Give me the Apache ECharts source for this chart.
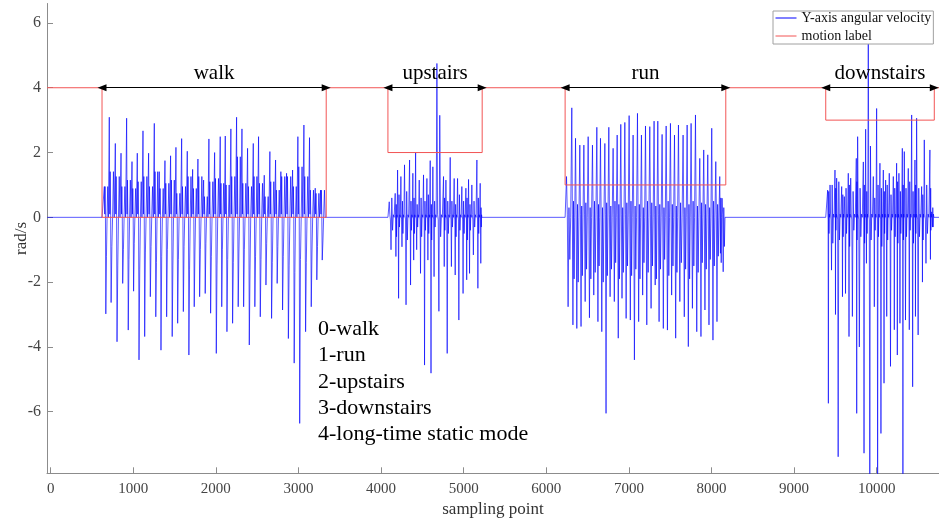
<!DOCTYPE html>
<html><head><meta charset="utf-8">
<script src="https://cdn.jsdelivr.net/npm/echarts@6.0.0/dist/echarts.min.js"></script>
<style>html,body{margin:0;padding:0;background:#fff}#c{width:939px;height:522px}</style>
</head><body><div id="c"></div>
<script>
// ---------- axis ranges & ticks ----------
const xMin = -44, xMax = 10754;
const yMin = -7.9, yMax = 6.6;
const xTicks = [0,1000,2000,3000,4000,5000,6000,7000,8000,9000,10000];
const yTicks = [-6,-4,-2,0,2,4,6];

// ---------- motion label segments ----------
const segNames = ['walk','upstairs','run','downstairs'];
const segStart = [622, 4083, 6228, 9383];
const segEnd   = [3336, 5224, 8173, 10697];
const segLevel = [0, 2, 1, 3];
const restLevel = 4;
const modeLines = ['0-walk','1-run','2-upstairs','3-downstairs','4-long-time static mode'];

// ---------- Y-axis angular velocity: step spikes ----------
// hiX: sample index of each step's main spike; hi / lo: its positive / negative peak;
// mid / dip / top: secondary peaks of the dense core in that step
const walkHiX = [650,710,783,852,920,985,1049,1118,1186,1255,1315,1384,1452,1517,1586,1654,1719,1783,1852,1916,1985,2053,2114,2182,2251,2316,2384,2453,2517,2586,2654,2723,2787,2856,2929,2993,3066,3134,3203,3267];
const walkHi = [0.95,3.09,2.28,1.98,3.06,1.72,1.98,2.67,1.98,2.9,1.41,1.75,1.9,2.16,2.43,2.04,1.48,1.8,1.15,2.42,2.0,2.49,2.51,2.73,3.09,2.73,2.13,2.28,2.49,1.3,2.03,1.77,1.41,1.36,1.46,2.49,2.85,2.46,0.9,0.84];
const walkLo = [-2.98,-2.63,-3.84,-2.04,-3.48,-2.28,-4.4,-3.68,-2.45,-3.07,-4.1,-3.07,-3.68,-3.27,-2.91,-4.25,-2.76,-2.45,-2.35,-2.96,-4.2,-2.76,-3.53,-3.27,-2.76,-2.76,-3.94,-2.76,-3.07,-2.09,-3.12,-2.04,-2.86,-3.74,-4.5,-6.36,-3.53,-2.76,-1.93,-1.32];
const walkMid = [0.95,1.41,1.26,0.95,1.15,0.89,1.1,1.26,0.95,1.41,0.89,1.05,1.15,0.74,0.95,1.26,0.89,1.26,0.64,1.1,1.2,1.05,1.0,1.26,1.87,1.05,0.95,1.26,1.05,0.64,1.1,0.84,1.26,1.26,0.95,1.56,1.26,0.84,0.74,0.84];
const walkDip = [-1.2,-0.9,-1.5,-1.0,-1.3,-0.8,-1.6,-1.1,-0.9,-1.4,-1.2,-1.0,-1.5,-1.3,-0.9,-1.6,-1.1,-1.0,-0.8,-1.2,-1.5,-1.0,-1.3,-1.4,-1.1,-1.0,-1.6,-1.2,-1.3,-0.8,-1.4,-0.9,-1.2,-1.5,-1.7,-1.3,-1.4,-1.1,-0.9,-0.7];
const walkPre = [0.1, 'M', 0.05];
const walkPost = ['D', 0.1, 'M', 0];

const upHiX = [4099,4171,4200,4240,4284,4345,4385,4418,4462,4514,4555,4595,4627,4676,4756,4785,4837,4885,4926,4978,5027,5059,5099,5160,5200];
const upHi = [0.48,0.74,1.46,1.26,1.62,1.77,1.36,2.0,1.15,1.31,1.2,1.75,1.56,4.75,1.26,1.15,1.85,1.2,1.2,0.95,0.9,1.17,1.0,1.77,1.05];
const upLo = [-1.0,-1.21,-2.5,-0.91,-2.7,-2.09,-1.32,-1.0,-1.73,-4.56,-1.32,-4.81,-1.83,-2.9,-1.52,-4.2,-1.52,-1.78,-3.17,-2.35,-1.93,-1.73,-1.16,-2.19,-1.42];
const upMid = [0.6,0.4,0.7,0.5,0.8,0.5,0.6,0.4,0.6,0.5,0.7,0.4,0.5,3.15,0.6,0.5,0.5,0.4,0.7,0.5,0.6,0.4,0.5,0.6,0.3];
const upDip = [-0.4,-0.6,-0.3,-0.5,-0.7,-0.4,-0.5,-0.3,-0.6,-0.4,-0.5,-0.7,-0.3,-0.6,-0.4,-0.5,-0.3,-0.6,-0.4,-0.5,-0.7,-0.4,-0.3,-0.5,-0.3];
const upPre = [0.08, -0.08];
const upPost = ['M', 'D', 0.08, 0];

const runHiX = [6245,6309,6354,6406,6455,6507,6559,6612,6656,6709,6757,6809,6858,6902,6951,7003,7051,7104,7152,7201,7253,7305,7350,7402,7451,7503,7552,7600,7656,7705,7753,7806,7858,7906,7955,8003,8052,8100,8128];
const runHi = [1.26,3.38,2.44,2.23,2.23,2.49,2.23,2.78,2.44,2.28,2.78,2.13,2.54,2.87,2.93,3.14,2.54,3.21,2.54,2.82,2.8,2.97,2.97,2.56,2.82,2.9,2.54,2.85,2.54,2.85,2.9,3.16,1.82,2.08,1.93,2.75,1.72,1.26,0.59];
const runLo = [-2.76,-3.32,-3.43,-3.37,-2.6,-3.1,-2.4,-3.22,-3.53,-6.05,-2.45,-2.6,-3.73,-2.5,-3.12,-3.17,-4.4,-3.22,-2.4,-3.32,-2.81,-2.09,-3.22,-3.43,-3.48,-2.4,-3.73,-2.6,-3.07,-3.99,-2.81,-3.53,-3.68,-2.86,-3.32,-3.79,-3.22,-1.11,-1.68];
const runDip = [-1.3,-1.9,-2.0,-1.8,-1.6,-1.9,-1.7,-1.5,-2.0,-1.8,-1.6,-1.4,-1.9,-1.7,-1.5,-1.8,-1.6,-1.9,-1.4,-1.7,-1.5,-1.9,-1.6,-1.3,-1.8,-1.5,-1.7,-1.4,-1.6,-1.9,-1.5,-1.7,-1.4,-1.6,-1.3,-1.5,-1.2,-1.4,-0.9];
const runTop = [0.3,0.5,0.4,0.35,0.45,0.3,0.5,0.4,0.3,0.45,0.35,0.5,0.4,0.3,0.45,0.5,0.35,0.4,0.3,0.5,0.45,0.35,0.4,0.3,0.5,0.4,0.35,0.45,0.3,0.4,0.5,0.35,0.45,0.4,0.3,0.5,0.4,0.6,0.3];
const runPre = [0.1];
const runPost = ['T', 'D', 0];

const downHiX = [9406,9435,9495,9515,9576,9608,9656,9685,9753,9769,9838,9866,9898,9959,9999,10039,10080,10108,10152,10201,10241,10269,10310,10334,10382,10423,10463,10483,10544,10576,10644,10665];
const downHi = [0.84,1.0,1.46,1.21,0.95,0.64,1.36,1.21,1.82,2.49,1.71,2.72,6.2,1.26,3.36,1.67,1.46,1.15,1.36,1.26,1.67,1.36,2.13,2.03,1.51,3.16,1.77,3.06,0.95,2.39,2.08,0.17];
const downLo = [-5.74,-1.63,-3.0,-7.39,-2.45,-2.35,-3.68,-3.06,-6.05,-4.0,-7.28,-1.42,-9.0,-2.76,-9.0,-6.67,-5.12,-3.06,-4.6,-3.47,-4.25,-3.27,-8.5,-3.17,-3.47,-5.23,-3.06,-3.63,-2.0,-1.42,-1.3,-0.3];
const downMid = [0.8,1.0,0.9,1.1,0.7,0.9,1.0,0.8,1.1,0.9,1.0,0.8,2.2,0.6,1.0,0.9,0.8,1.0,0.7,0.9,1.1,0.8,1.0,0.9,1.1,0.8,1.0,0.9,0.7,1.0,0.9,0.3];
const downDip = [-0.5,-0.8,-0.4,-0.7,-0.6,-0.5,-0.9,-0.4,-0.7,-0.6,-0.8,-0.5,-0.7,-0.4,-0.6,-0.9,-0.5,-0.7,-0.4,-0.6,-0.8,-0.5,-0.7,-0.6,-0.4,-0.8,-0.5,-0.6,-0.7,-0.5,-0.4,-0.3];
const downPre = [0.1, -0.08];
const downPost = ['M', 'D', 0.1, 0];

// ---------- build series data ----------
function buildSegment(start, end, hiX, hi, lo, pre, post, extra) {
  const pts = [[start, 0]];
  const n = hiX.length;
  for (let i = 0; i < n; i++) {
    const x0 = hiX[i];
    const x1 = i + 1 < n ? hiX[i + 1] : end;
    const gap = x1 - x0;
    const v = t => (typeof t === 'string' ? extra[t][i] : t);
    pts.push([x0, hi[i]]);
    const nb = pre.length;
    for (let j = 0; j < nb; j++) pts.push([x0 + gap * 0.3 * (j + 1) / (nb + 1), v(pre[j])]);
    pts.push([x0 + gap * 0.3, lo[i]]);
    const nt = post.length;
    for (let j = 0; j < nt; j++) pts.push([x0 + gap * (0.3 + 0.65 * (j + 1) / (nt + 1)), v(post[j])]);
  }
  pts.push([end, 0]);
  return pts;
}
const segData = [
  buildSegment(segStart[0], segEnd[0], walkHiX, walkHi, walkLo, walkPre, walkPost, { M: walkMid, D: walkDip }),
  buildSegment(segStart[1], segEnd[1], upHiX, upHi, upLo, upPre, upPost, { M: upMid, D: upDip }),
  buildSegment(segStart[2], segEnd[2], runHiX, runHi, runLo, runPre, runPost, { T: runTop, D: runDip }),
  buildSegment(segStart[3], segEnd[3], downHiX, downHi, downLo, downPre, downPost, { M: downMid, D: downDip })
];
let blueData = [[xMin, 0]];
segData.forEach(s => { blueData = blueData.concat(s); });
blueData.push([xMax, 0]);

const redData = [[xMin, restLevel]];
for (let i = 0; i < segStart.length; i++) {
  redData.push([segStart[i], restLevel], [segStart[i], segLevel[i]], [segEnd[i], segLevel[i]], [segEnd[i], restLevel]);
}
redData.push([xMax, restLevel]);

const arrowData = segNames.map((nm, i) => [
  { name: nm, coord: [segStart[i], restLevel] },
  { coord: [segEnd[i], restLevel] }
]);

const SERIF = "'Liberation Serif','Times New Roman',serif";
const AX = '#8c8c8c';
const chart = echarts.init(document.getElementById('c'), null, { renderer: 'canvas' });
chart.setOption({
  animation: false,
  backgroundColor: '#fff',
  grid: { left: 47, right: 0, top: 3.5, bottom: 48.7, containLabel: false, outerBoundsMode: 'none' },
  legend: {
    data: ['Y-axis angular velocity', 'motion label'],
    orient: 'vertical', left: 773, top: 11,
    padding: [0, 2, 1, 2], itemGap: 4, itemWidth: 21, itemHeight: 14,
    backgroundColor: '#fff', borderColor: '#a0a0a0', borderWidth: 1,
    itemStyle: { opacity: 0 },
    lineStyle: { width: 1 },
    textStyle: { fontFamily: SERIF, fontSize: 14, color: '#111' },
    selectedMode: false
  },
  xAxis: {
    type: 'value', min: xMin, max: xMax,
    name: 'sampling point', nameLocation: 'middle', nameGap: 28, nameMoveOverlap: false,
    nameTextStyle: { fontFamily: SERIF, fontSize: 17, color: '#333' },
    axisLine: { onZero: false, lineStyle: { color: AX, width: 1 } },
    axisTick: { inside: true, length: 6, customValues: xTicks, lineStyle: { color: AX } },
    axisLabel: { customValues: xTicks, margin: 8, fontFamily: SERIF, fontSize: 15, color: '#444',
                 formatter: v => String(v) },
    splitLine: { show: false }
  },
  yAxis: {
    type: 'value', min: yMin, max: yMax,
    name: 'rad/s', nameLocation: 'middle', nameGap: 17, nameMoveOverlap: false,
    nameTextStyle: { fontFamily: SERIF, fontSize: 17, color: '#333' },
    axisLine: { onZero: false, lineStyle: { color: AX, width: 1 } },
    axisTick: { inside: true, length: 6, customValues: yTicks, lineStyle: { color: AX } },
    axisLabel: { customValues: yTicks, margin: 6, fontFamily: SERIF, fontSize: 16, color: '#444',
                 formatter: v => String(v) },
    splitLine: { show: false }
  },
  graphic: [{
    type: 'text', left: 318, top: 316, z: 10,
    style: { text: modeLines.join('\n'), font: '22px ' + SERIF, lineHeight: 26.3, fill: '#000' }
  }],
  series: [
    {
      name: 'Y-axis angular velocity', type: 'line', data: blueData,
      showSymbol: false, symbol: 'none', clip: true,
      lineStyle: { color: '#0000ff', width: 0.65 }, itemStyle: { color: '#0000ff' },
      z: 2
    },
    {
      name: 'motion label', type: 'line', data: redData,
      showSymbol: false, symbol: 'none',
      lineStyle: { color: '#f25555', width: 1 }, itemStyle: { color: '#f25555' },
      z: 3,
      markLine: {
        silent: true, animation: false,
        symbol: ['triangle', 'triangle'], symbolSize: [7, 9],
        lineStyle: { color: '#000', width: 1, type: 'solid' },
        itemStyle: { color: '#000' },
        label: { show: true, position: 'insideMiddleTop', distance: 4, formatter: '{b}', fontFamily: SERIF, fontSize: 21, color: '#000' },
        emphasis: { disabled: true },
        data: arrowData
      }
    }
  ]
});
</script></body></html>
